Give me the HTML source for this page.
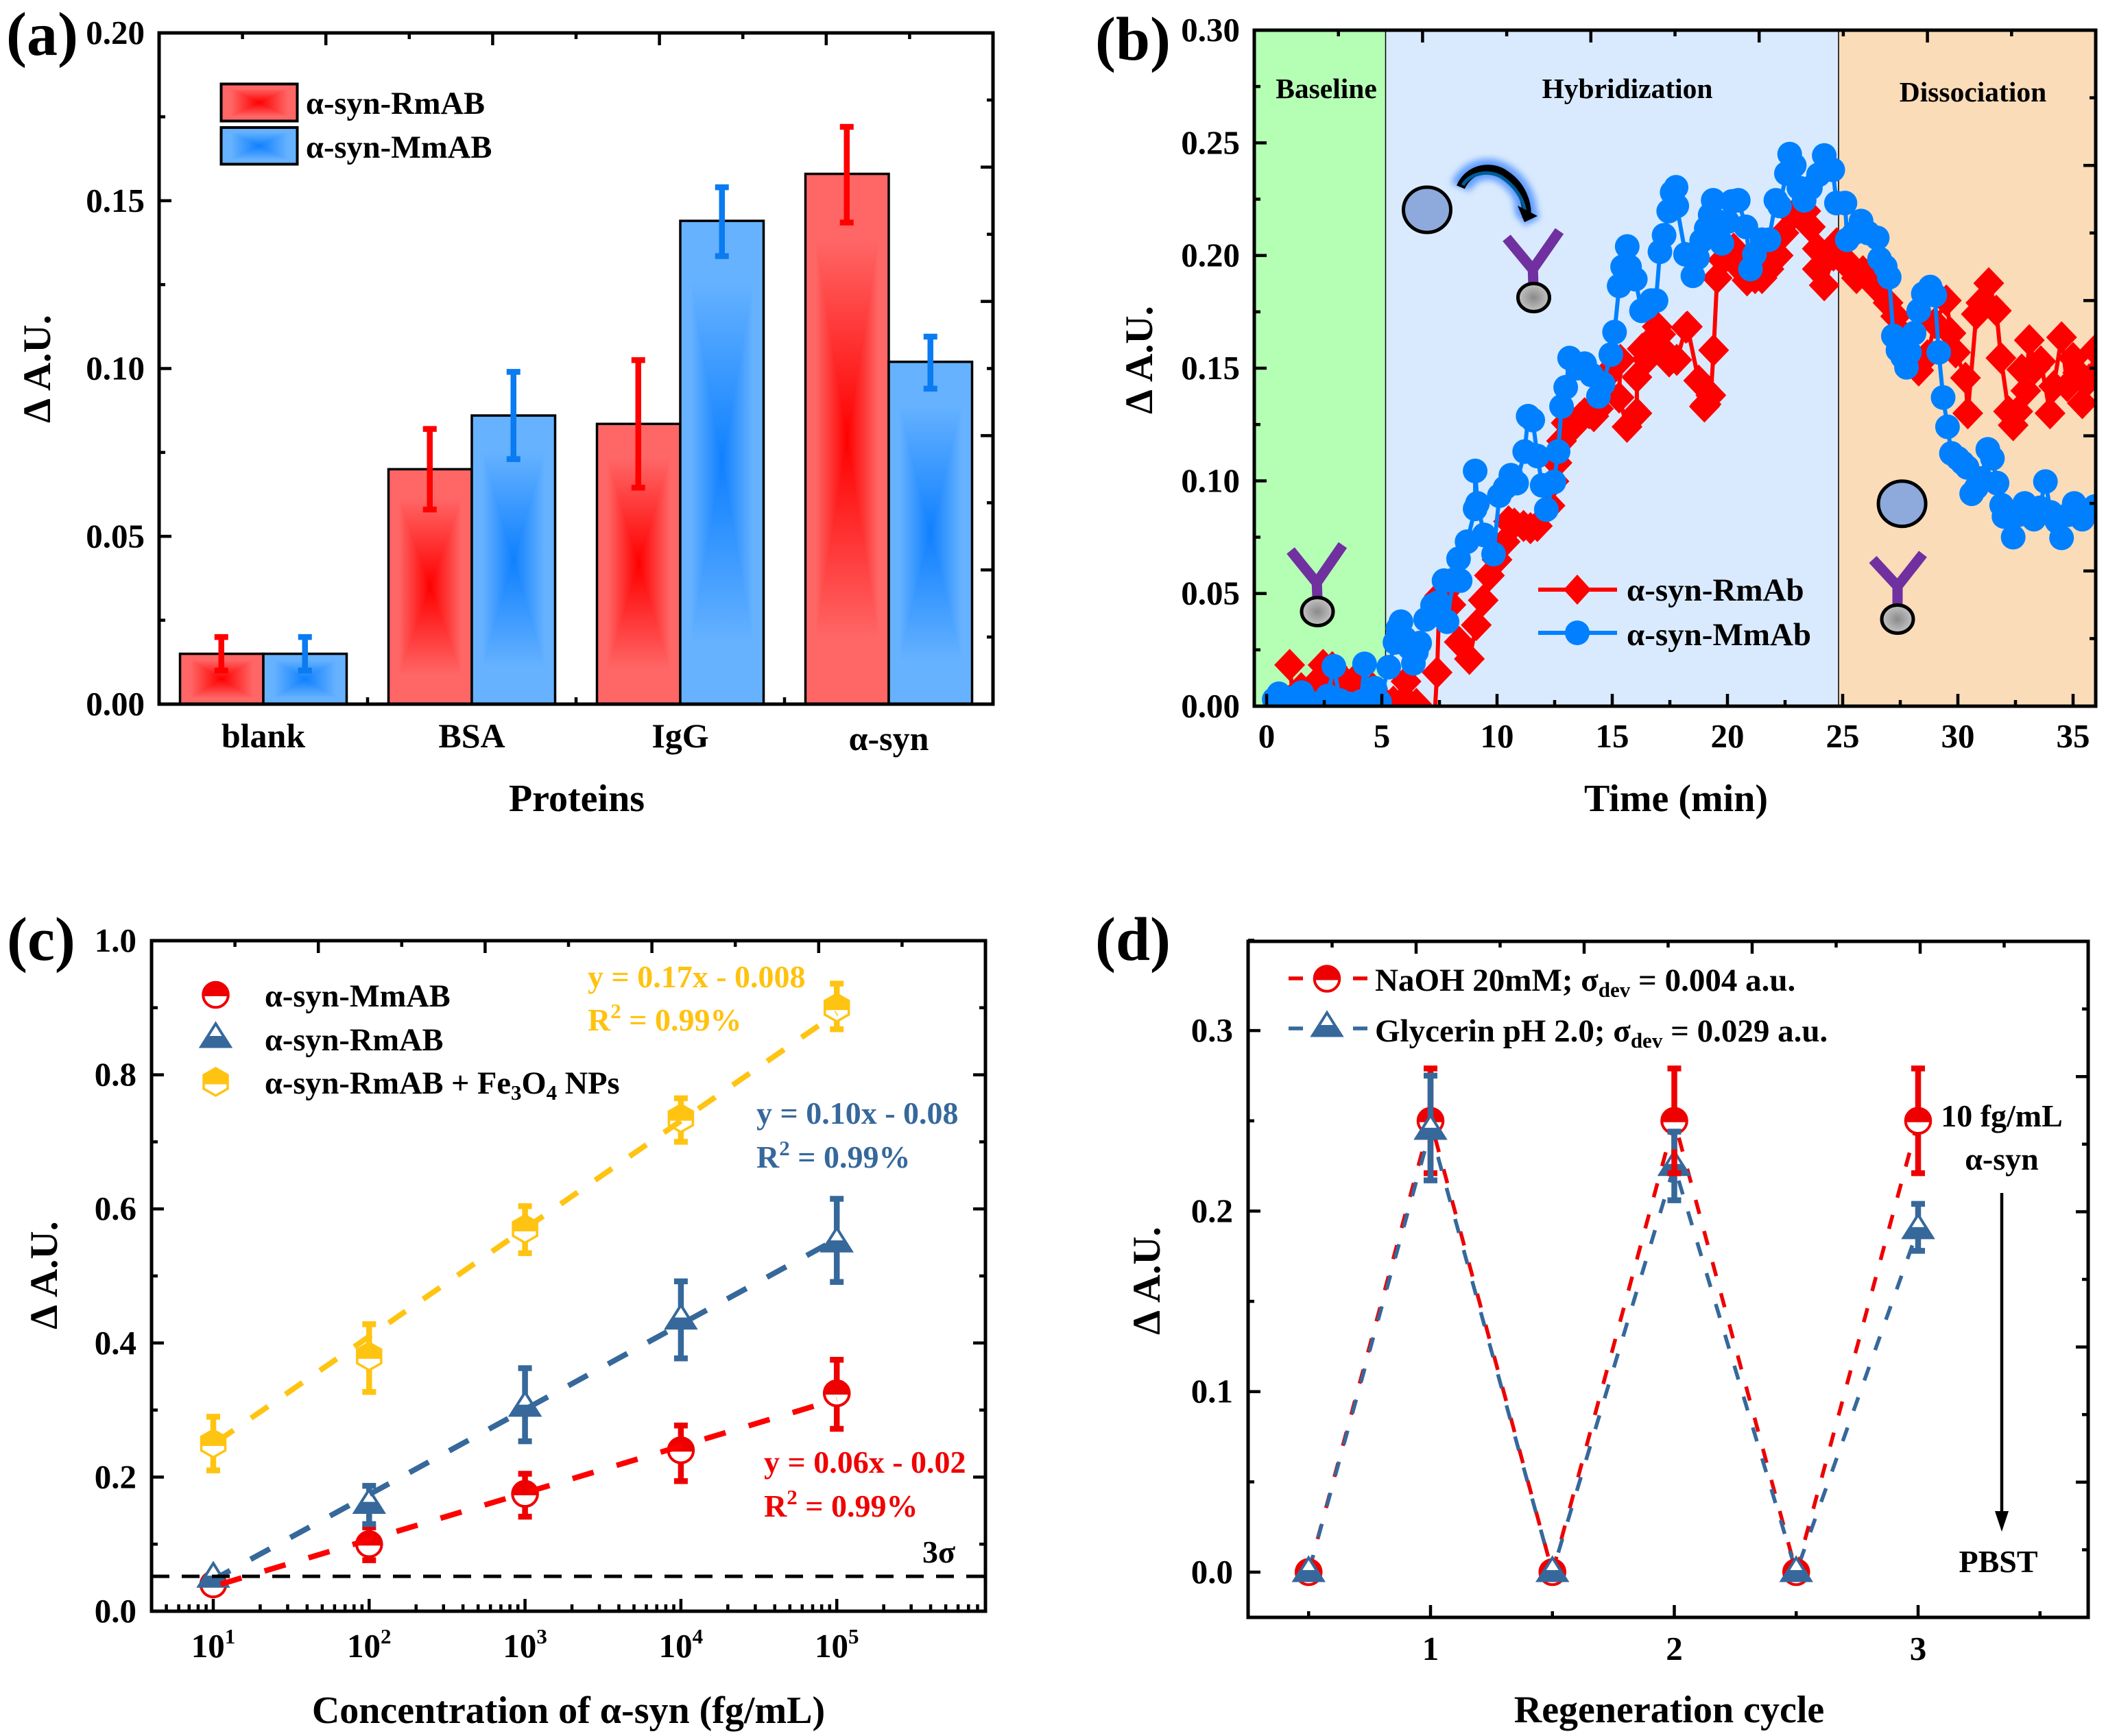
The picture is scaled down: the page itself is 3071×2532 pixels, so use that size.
<!DOCTYPE html>
<html lang="en">
<head>
<meta charset="utf-8">
<title>Protein binding charts</title>
<style>
html,body{margin:0;padding:0;background:#fff;}
svg{display:block;}
text{font-family:"Liberation Serif","Noto Serif CJK SC",serif;font-weight:bold;fill:#000;}
</style>
</head>
<body>
<svg id="fig" xmlns="http://www.w3.org/2000/svg" width="3071" height="2532" viewBox="0 0 3071 2532">
<defs>
  <linearGradient id="rT" x1="0" y1="0" x2="0" y2="1"><stop offset="0.25" stop-color="#FF6666"/><stop offset="1" stop-color="#FF0000"/></linearGradient>
  <linearGradient id="rB" x1="0" y1="1" x2="0" y2="0"><stop offset="0.25" stop-color="#FF6666"/><stop offset="1" stop-color="#FF0000"/></linearGradient>
  <linearGradient id="rL" x1="0" y1="0" x2="1" y2="0"><stop offset="0.25" stop-color="#FF6666"/><stop offset="1" stop-color="#FF0000"/></linearGradient>
  <linearGradient id="rR" x1="1" y1="0" x2="0" y2="0"><stop offset="0.25" stop-color="#FF6666"/><stop offset="1" stop-color="#FF0000"/></linearGradient>
  <linearGradient id="bT" x1="0" y1="0" x2="0" y2="1"><stop offset="0.25" stop-color="#66B2FF"/><stop offset="1" stop-color="#0F80FF"/></linearGradient>
  <linearGradient id="bB" x1="0" y1="1" x2="0" y2="0"><stop offset="0.25" stop-color="#66B2FF"/><stop offset="1" stop-color="#0F80FF"/></linearGradient>
  <linearGradient id="bL" x1="0" y1="0" x2="1" y2="0"><stop offset="0.25" stop-color="#66B2FF"/><stop offset="1" stop-color="#0F80FF"/></linearGradient>
  <linearGradient id="bR" x1="1" y1="0" x2="0" y2="0"><stop offset="0.25" stop-color="#66B2FF"/><stop offset="1" stop-color="#0F80FF"/></linearGradient>
  <radialGradient id="beadFill"><stop offset="0" stop-color="#8A8A8A"/><stop offset="1" stop-color="#C4C4C4"/></radialGradient>
  <filter id="glow" x="-30%" y="-30%" width="160%" height="160%"><feGaussianBlur stdDeviation="5"/></filter>
  <clipPath id="clipB"><rect x="1829" y="44" width="1227" height="986"/></clipPath>
</defs>

<g id="panelA">
  <text x="9" y="80" font-size="90">(a)</text>
  <g id="barsA"></g>
  <g id="axesA"></g>
  <g id="legendA"></g>
  <text x="446" y="166" font-size="46.5">α-syn-RmAB</text>
  <text x="446" y="230" font-size="46.5">α-syn-MmAB</text>
  <text x="841" y="1183" font-size="56" text-anchor="middle">Proteins</text>
  <text transform="translate(73,538) rotate(-90)" font-size="57" text-anchor="middle">Δ A.U.</text>
</g>

<g id="panelB">
  <text x="1597" y="87" font-size="90">(b)</text>
  <rect x="1829" y="44" width="191" height="986" fill="#B5FFB5"/>
  <rect x="2020" y="44" width="661" height="986" fill="#D9EAFE"/>
  <rect x="2681" y="44" width="375" height="986" fill="#FADCB9"/>
  <line x1="2020.5" y1="44" x2="2020.5" y2="1030" stroke="#000" stroke-width="1.5"/>
  <line x1="2681" y1="44" x2="2681" y2="1030" stroke="#000" stroke-width="1.5"/>
  <g>
    <path d="M1882,803 L1920,850 L1958,795 M1920,845 L1921,872" fill="none" stroke="#7030A0" stroke-width="15"/>
    <ellipse cx="1921" cy="892" rx="23" ry="20.5" fill="url(#beadFill)" stroke="#000" stroke-width="5"/>
  </g>
  <g>
    <ellipse cx="2081" cy="306" rx="34.5" ry="33" fill="#8EA9DB" stroke="#000" stroke-width="5"/>
  </g>
  <g>
    <path d="M2130,273 C2142,245 2175,240 2195,255 C2218,270 2228,295 2226,318" fill="none" stroke="#5E9CFF" stroke-width="30" filter="url(#glow)"/>
    <polygon points="2208,298 2246,315 2223,330" fill="#5E9CFF" filter="url(#glow)"/>
    <path d="M2130,273 C2142,245 2175,240 2195,255 C2218,270 2228,295 2226,318" fill="none" stroke="#000" stroke-width="13"/>
    <path d="M2133,270 C2144,251 2175,247 2192,260 C2212,274 2224,295 2224,314" fill="none" stroke="#005C99" stroke-width="5"/>
    <polygon points="2213,300 2242,315 2223,324" fill="#000"/>
  </g>
  <g>
    <path d="M2197,347 L2235,393 L2274,337 M2235,385 L2236,417" fill="none" stroke="#7030A0" stroke-width="15"/>
    <ellipse cx="2236.5" cy="434" rx="23" ry="20.5" fill="url(#beadFill)" stroke="#000" stroke-width="5"/>
  </g>
  <g>
    <ellipse cx="2773.6" cy="734.7" rx="34.5" ry="33" fill="#8EA9DB" stroke="#000" stroke-width="5"/>
  </g>
  <g>
    <path d="M2731,816 L2767,855 L2804,808 M2767,848 L2767,884" fill="none" stroke="#7030A0" stroke-width="15"/>
    <ellipse cx="2767" cy="903" rx="23" ry="20.5" fill="url(#beadFill)" stroke="#000" stroke-width="5"/>
  </g>
  <g id="seriesB" clip-path="url(#clipB)"></g>
  <text x="1934" y="143" font-size="41.5" text-anchor="middle">Baseline</text>
  <text x="2373" y="143" font-size="41.5" text-anchor="middle">Hybridization</text>
  <text x="2877" y="148" font-size="41.5" text-anchor="middle">Dissociation</text>
  <g id="axesB"></g>
  <g id="legendB"></g>
  <text x="2372" y="876" font-size="47">α-syn-RmAb</text>
  <text x="2372" y="941" font-size="47">α-syn-MmAb</text>
  <text x="2444" y="1183" font-size="56" text-anchor="middle">Time (min)</text>
  <text transform="translate(1680,525) rotate(-90)" font-size="57" text-anchor="middle">Δ A.U.</text>
</g>

<g id="panelC">
  <text x="10" y="1400" font-size="90">(c)</text>
  <g id="seriesC"></g>
  <g id="axesC"></g>
  <g id="legendC"></g>
  <text x="386" y="1468" font-size="46.4">α-syn-MmAB</text>
  <text x="386" y="1532" font-size="46.4">α-syn-RmAB</text>
  <text x="386" y="1595" font-size="46.4">α-syn-RmAB + Fe<tspan font-size="31" dy="9">3</tspan><tspan dy="-9">O</tspan><tspan font-size="31" dy="9">4</tspan><tspan dy="-9"> NPs</tspan></text>
  <text x="857" y="1440" font-size="46" style="fill:#FFC20E">y = 0.17x - 0.008</text>
  <text x="857" y="1503" font-size="46" style="fill:#FFC20E">R<tspan font-size="31" dy="-18">2</tspan><tspan dy="18"> = 0.99%</tspan></text>
  <text x="1103" y="1639" font-size="46" style="fill:#36689B">y = 0.10x - 0.08</text>
  <text x="1103" y="1703" font-size="46" style="fill:#36689B">R<tspan font-size="31" dy="-18">2</tspan><tspan dy="18"> = 0.99%</tspan></text>
  <text x="1114" y="2148" font-size="46" style="fill:#F00000">y = 0.06x - 0.02</text>
  <text x="1114" y="2212" font-size="46" style="fill:#F00000">R<tspan font-size="31" dy="-18">2</tspan><tspan dy="18"> = 0.99%</tspan></text>
  <text x="1345" y="2279" font-size="46">3σ</text>
  <text x="829" y="2513" font-size="56" text-anchor="middle">Concentration of α-syn (fg/mL)</text>
  <text transform="translate(83,1860) rotate(-90)" font-size="57" text-anchor="middle">Δ A.U.</text>
</g>

<g id="panelD">
  <text x="1597" y="1400" font-size="90">(d)</text>
  <g id="seriesD"></g>
  <g id="axesD"></g>
  <g id="legendD"></g>
  <text x="2005" y="1445" font-size="47">NaOH 20mM; σ<tspan font-size="31" dy="9">dev</tspan><tspan dy="-9"> = 0.004 a.u.</tspan></text>
  <text x="2005" y="1519" font-size="47">Glycerin pH 2.0; σ<tspan font-size="31" dy="9">dev</tspan><tspan dy="-9"> = 0.029 a.u.</tspan></text>
  <text x="2919" y="1643" font-size="46" text-anchor="middle">10 fg/mL</text>
  <text x="2919" y="1706" font-size="46" text-anchor="middle">α-syn</text>
  <g>
    <line x1="2919" y1="1740" x2="2919" y2="2210" stroke="#000" stroke-width="4.5"/>
    <polygon points="2909,2204 2929,2204 2919,2234" fill="#000"/>
  </g>
  <text x="2914" y="2293" font-size="46" text-anchor="middle">PBST</text>
  <text x="2434" y="2512" font-size="56" text-anchor="middle">Regeneration cycle</text>
  <text transform="translate(1691,1868) rotate(-90)" font-size="57" text-anchor="middle">Δ A.U.</text>
</g>
</svg>

<script>
/* ---------- Panel (a) data ---------- */
const categoriesA = ['blank', 'BSA', 'IgG', 'α-syn'];
const rmabValues = [0.015, 0.070, 0.0835, 0.158];
const rmabErrTop = [0.020, 0.082, 0.1025, 0.172];
const rmabErrBottom = [0.010, 0.058, 0.0645, 0.1435];
const mmabValues = [0.015, 0.086, 0.144, 0.102];
const mmabErrTop = [0.020, 0.099, 0.154, 0.1095];
const mmabErrBottom = [0.010, 0.073, 0.1335, 0.094];
const yTickLabelsA = ['0.00', '0.05', '0.10', '0.15', '0.20'];
const yTickValuesA = [0, 0.05, 0.10, 0.15, 0.20];

/* ---------- Panel (b) data ---------- */
const timeRmab = [1,1.15,1.5,2,2.3,2.45,2.7,2.85,3.1,3.5,3.85,4.2,4.6,5,5.5,6.05,6.1,6.5,6.8,7.2,7.4,7.5,7.7,8,8.36,8.8,9.1,9.4,9.67,10,10.35,10.5,10.75,11.15,11.45,11.75,12.3,12.47,12.6,12.8,13,13.2,13.4,13.6,13.8,14,14.2,14.4,14.6,14.8,15,15.35,15.3,15.64,16.07,16.07,16.3,16.5,16.88,16.95,17.1,17.4,17.47,17.8,18.2,18.26,18.75,19,19.07,19.28,19.4,19.55,19.8,20.27,20.5,20.85,21.2,21.5,21.8,22.2,22.45,22.84,23.4,23.6,23.9,23.9,24.2,24.6,24.74,25.1,25.37,25.6,25.88,26.2,26.5,26.97,27.3,27.6,27.9,28.3,28.68,29,29.5,29.7,29.9,30.33,30.43,30.8,31,31.34,31.67,31.87,32.2,32.4,32.6,32.77,32.95,33.1,33.35,33.6,34,34.16,34.5,34.75,35,35.2,35.4,35.7,35.95];
const valueRmab = [0.0183,0.003,0.008,0.004,0.012,0.0183,0.01,0.0173,0.005,0.01,0.012,0.005,0.008,0.003,0.002,0.011,0.002,0.001,-0.005,-0.02,0.015,0.049,0.05,0.045,0.0285,0.021,0.036,0.047,0.058,0.065,0.073,0.082,0.081,0.08,0.079,0.08,0.089,0.0998,0.108,0.1177,0.1257,0.127,0.125,0.128,0.13,0.13,0.1287,0.132,0.14,0.147,0.15,0.1537,0.137,0.124,0.13,0.146,0.1586,0.154,0.1643,0.1684,0.165,0.156,0.153,0.1537,0.168,0.1684,0.1445,0.133,0.134,0.138,0.158,0.19,0.198,0.203,0.195,0.189,0.19,0.19,0.194,0.2,0.21,0.218,0.2197,0.2127,0.203,0.194,0.1868,0.2,0.2054,0.198,0.194,0.19,0.193,0.19,0.1856,0.179,0.173,0.165,0.155,0.149,0.1557,0.17,0.18,0.1655,0.157,0.1457,0.13,0.174,0.179,0.1877,0.1755,0.1545,0.1308,0.1247,0.1308,0.1494,0.14,0.1624,0.15,0.153,0.13,0.142,0.1637,0.142,0.1545,0.148,0.1345,0.145,0.158];
const timeMmab = [0.33,0.53,0.75,1,1.25,1.52,1.8,2.2,2.65,2.92,3.18,3.6,4.1,4.25,4.5,4.7,4.9,5.3,5.57,5.7,5.83,6,6.2,6.37,6.5,6.64,6.9,7.2,7.45,7.7,7.83,8.1,8.33,8.4,8.7,9.05,9.05,9.15,9.44,9.85,10.1,10.35,10.6,10.85,11.2,11.35,11.55,11.75,11.96,12.14,12.47,12.65,12.8,12.98,13.15,13.5,13.8,14.1,14.4,14.6,14.94,15.1,15.3,15.45,15.65,15.75,16,16.27,16.5,16.7,16.9,17.07,17.25,17.45,17.6,17.77,17.8,18.18,18.5,18.7,18.88,19.08,19.25,19.38,19.6,19.76,20,20.2,20.47,20.8,21,21.17,21.5,21.8,22.1,22.26,22.56,22.7,22.9,23.1,23.33,23.6,23.95,24.2,24.57,24.73,25.1,25.2,25.5,25.8,26.1,26.5,26.6,26.85,27.02,27.2,27.4,27.6,27.77,27.9,28.1,28.3,28.5,28.8,29,29.17,29.36,29.55,29.72,30,30.2,30.4,30.6,30.8,31,31.3,31.5,31.7,31.9,32,32.4,32.65,32.9,33.3,33.55,33.8,34.03,34.3,34.5,34.8,35.05,35.4,35.95];
const valueMmab = [0.003,0.0055,0.002,0.003,0.004,0.006,0.002,0.001,0.0045,0.0177,0.0025,0.001,0.002,0.0188,0.003,0.008,0.002,0.0173,0.0283,0.0345,0.0375,0.03,0.026,0.019,0.024,0.028,0.0385,0.0447,0.046,0.0557,0.0375,0.056,0.0654,0.0557,0.073,0.0876,0.1044,0.09,0.076,0.0675,0.0934,0.097,0.1025,0.099,0.113,0.1287,0.127,0.111,0.098,0.0873,0.0995,0.113,0.133,0.1415,0.1545,0.15,0.152,0.147,0.1375,0.143,0.156,0.166,0.1865,0.195,0.204,0.195,0.1895,0.1755,0.177,0.18,0.18,0.2017,0.209,0.2197,0.228,0.2303,0.222,0.2005,0.191,0.199,0.2066,0.212,0.218,0.2245,0.215,0.2054,0.215,0.224,0.2245,0.2127,0.194,0.2005,0.207,0.207,0.2245,0.222,0.2364,0.245,0.24,0.23,0.2245,0.23,0.2358,0.2444,0.238,0.2233,0.2233,0.207,0.21,0.2153,0.21,0.2078,0.1985,0.195,0.1904,0.1643,0.158,0.155,0.1504,0.157,0.1655,0.1755,0.183,0.186,0.1824,0.157,0.137,0.124,0.1122,0.11,0.108,0.106,0.0943,0.097,0.101,0.114,0.11,0.099,0.0892,0.0842,0.075,0.085,0.09,0.083,0.088,0.0997,0.086,0.082,0.0747,0.085,0.09,0.083,0.0886];
const xTickValuesB = [0, 5, 10, 15, 20, 25, 30, 35];
const yTickLabelsB = ['0.00', '0.05', '0.10', '0.15', '0.20', '0.25', '0.30'];
const yTickValuesB = [0, 0.05, 0.10, 0.15, 0.20, 0.25, 0.30];

/* ---------- Panel (c) data ---------- */
const concentrations = [10, 100, 1000, 10000, 100000];
const decadeExponents = ['1', '2', '3', '4', '5'];
const mmabConc = [0.04, 0.10, 0.175, 0.24, 0.325];
const mmabConcTop = [0.05, 0.125, 0.205, 0.277, 0.375];
const mmabConcBottom = [0.03, 0.076, 0.141, 0.194, 0.272];
const rmabConc = [0.05, 0.16, 0.305, 0.435, 0.55];
const rmabConcTop = [0.055, 0.187, 0.3625, 0.492, 0.615];
const rmabConcBottom = [0.045, 0.13, 0.2535, 0.377, 0.491];
const fe3o4Conc = [0.25, 0.38, 0.57, 0.735, 0.90];
const fe3o4ConcTop = [0.29, 0.428, 0.604, 0.765, 0.936];
const fe3o4ConcBottom = [0.21, 0.327, 0.534, 0.70, 0.868];
const fitRange = [10, 100000];
const fitMmab = [0.037, 0.316];
const fitRmab = [0.047, 0.555];
const fitFe3o4 = [0.249, 0.892];
const threeSigmaValue = [0.052];
const yTickLabelsC = ['0.0', '0.2', '0.4', '0.6', '0.8', '1.0'];
const yTickValuesC = [0, 0.2, 0.4, 0.6, 0.8, 1.0];

/* ---------- Panel (d) data ---------- */
const cycles = [0.5, 1, 1.5, 2, 2.5, 3];
const naohValues = [0, 0.25, 0, 0.25, 0, 0.25];
const naohTop = [0, 0.279, 0, 0.279, 0, 0.279];
const naohBottom = [0, 0.221, 0, 0.221, 0, 0.221];
const glycerinValues = [0, 0.245, 0, 0.225, 0, 0.19];
const glycerinTop = [0, 0.275, 0, 0.244, 0, 0.204];
const glycerinBottom = [0, 0.217, 0, 0.206, 0, 0.178];
const xTickLabelsD = ['1', '2', '3'];
const xTickValuesD = [1, 2, 3];
const yTickLabelsD = ['0.0', '0.1', '0.2', '0.3'];
const yTickValuesD = [0, 0.1, 0.2, 0.3];

/* ---------- Scales ---------- */
const xA = i => 232 + (i + 0.5) * 304;
const yA = v => 1027 - v * (979 / 0.2);
const xB = t => 1847 + 33.6 * t;
const yB = v => 1030 - v * (986 / 0.3);
const xC = c => 311 + (Math.log10(c) - 1) * 227.3;
const yC = v => 2350 - v * 978;
const xD = c => 2086 + (c - 1) * 355.5;
const yD = v => 2293 - v * 2633;

/* ---------- Colours ---------- */
const RED = '#EE0000', STEEL = '#36689B', GOLD = '#FFC412';

const NS = 'http://www.w3.org/2000/svg';
function mk(tag, attrs, parent) {
  const e = document.createElementNS(NS, tag);
  for (const k in attrs) e.setAttribute(k, attrs[k]);
  if (parent) parent.appendChild(e);
  return e;
}
const byId = id => document.getElementById(id);

/* ---------- Frame and ticks ---------- */
function frame(g, x0, y0, x1, y1) {
  const r = mk('rect', {x: x0, y: y0, width: x1 - x0, height: y1 - y0, fill: 'none', stroke: '#000', 'stroke-width': 5}, g);
  
  
}
function tickMark(g, x1, y1, x2, y2) {
  const t = mk('line', {x1: x1, y1: y1, x2: x2, y2: y2, stroke: '#000', 'stroke-width': 4.5}, g);
  
  
}
function topRightTicks(g, x0, y0, x1, y1) {
  for (let k = 1; k < 10; k++) {
    const len = k % 2 === 0 ? 18 : 9;
    const x = x0 + (x1 - x0) * k / 10;
    const y = y1 - (y1 - y0) * k / 10;
    tickMark(g, x, y0, x, y0 + len);
    tickMark(g, x1, y, x1 - len, y);
  }
}
function tickLabel(g, x, y, str, anchor, size) {
  const t = mk('text', {x: x, y: y, 'text-anchor': anchor, 'font-size': size || 49}, g);
  t.textContent = str;
  
  
  return t;
}

/* ---------- Marks ---------- */
function gradientBar(g, name, x0, x1, yTop, yBot, key) {
  const bar = mk('g', {}, g);
  
  
  const cx = (x0 + x1) / 2, cy = (yTop + yBot) / 2;
  mk('polygon', {points: `${x0},${yTop} ${x1},${yTop} ${cx},${cy}`, fill: `url(#${key}T)`, 'shape-rendering': 'crispEdges'}, bar);
  mk('polygon', {points: `${x0},${yBot} ${x1},${yBot} ${cx},${cy}`, fill: `url(#${key}B)`, 'shape-rendering': 'crispEdges'}, bar);
  mk('polygon', {points: `${x0},${yTop} ${x0},${yBot} ${cx},${cy}`, fill: `url(#${key}L)`, 'shape-rendering': 'crispEdges'}, bar);
  mk('polygon', {points: `${x1},${yTop} ${x1},${yBot} ${cx},${cy}`, fill: `url(#${key}R)`, 'shape-rendering': 'crispEdges'}, bar);
  mk('rect', {x: x0, y: yTop, width: x1 - x0, height: yBot - yTop, fill: 'none', stroke: '#000', 'stroke-width': 3.5}, bar);
}
function errorBar(g, name, x, yTop, yBot, color) {
  const e = mk('path', {d: `M${x - 10},${yTop} H${x + 10} M${x},${yTop} V${yBot} M${x - 10},${yBot} H${x + 10}`, stroke: color, 'stroke-width': 8.5, fill: 'none'}, g);
  
  
}
function halfCircle(g, name, x, y, color) {
  const m = mk('g', {transform: `translate(${x},${y})`}, g);
  
  
  mk('circle', {r: 18.3, fill: '#fff', stroke: color, 'stroke-width': 4}, m);
  mk('path', {d: 'M-18.3,1 A18.3,18.3 0 0 1 18.3,1 Z', fill: color, stroke: color, 'stroke-width': 2}, m);
}
function halfTriangle(g, name, x, y, color) {
  const m = mk('g', {transform: `translate(${x},${y})`}, g);
  
  
  mk('polygon', {points: '0,-21 21,12.5 -21,12.5', fill: '#fff', stroke: color, 'stroke-width': 4}, m);
  mk('polygon', {points: '-12.5,-1 12.5,-1 21,12.5 -21,12.5', fill: color, stroke: color, 'stroke-width': 4}, m);
}
function halfHexagon(g, name, x, y, color) {
  const m = mk('g', {transform: `translate(${x},${y})`}, g);
  
  
  mk('polygon', {points: '0,-20 17.5,-10 17.5,10 0,20 -17.5,10 -17.5,-10', fill: '#fff', stroke: color, 'stroke-width': 3.5}, m);
  mk('polygon', {points: '0,-20 17.5,-10 17.5,2 -17.5,2 -17.5,-10', fill: color, stroke: color, 'stroke-width': 3}, m);
}
function pointsOf(xs, ys, fx, fy) {
  return xs.map((x, i) => fx(x) + ',' + fy(ys[i])).join(' ');
}

/* ---------- Panel (a) ---------- */
(function () {
  const g = byId('barsA');
  const half = 121.5;
  categoriesA.forEach((cat, i) => {
    const cx = xA(i);
    gradientBar(g, 'bar-rmab-' + cat, cx - half, cx, yA(rmabValues[i]), yA(0), 'r');
    gradientBar(g, 'bar-mmab-' + cat, cx, cx + half, yA(mmabValues[i]), yA(0), 'b');
    errorBar(g, 'error-bar-rmab-' + cat, cx - half / 2 - 0.5, yA(rmabErrTop[i]), yA(rmabErrBottom[i]), '#FF0000');
    errorBar(g, 'error-bar-mmab-' + cat, cx + half / 2, yA(mmabErrTop[i]), yA(mmabErrBottom[i]), '#0A7BF0');
  });
  const ax = byId('axesA');
  frame(ax, 232, 48, 1448, 1027);
  topRightTicks(ax, 232, 48, 1448, 1027);
  yTickValuesA.forEach((v, i) => {
    tickMark(ax, 232, yA(v), 250, yA(v));
    if (i < yTickValuesA.length - 1) tickMark(ax, 232, yA(v + 0.025), 241, yA(v + 0.025));
    tickLabel(ax, 211, yA(v) + 16, yTickLabelsA[i], 'end');
  });
  categoriesA.forEach((cat, i) => {
    if (i > 0) tickMark(ax, xA(i) - 152, 1027, xA(i) - 152, 1017);
    tickLabel(ax, xA(i), cat === 'α-syn' ? 1094 : 1090, cat, 'middle', 50);
  });
  const lg = byId('legendA');
  gradientBar(lg, 'legend-swatch-rmab', 322.5, 433.5, 122.5, 176.5, 'r');
  gradientBar(lg, 'legend-swatch-mmab', 322.5, 433.5, 186, 239.5, 'b');
  lg.querySelectorAll('rect').forEach(r => r.setAttribute('stroke-width', 4));
})();

/* ---------- Panel (b) ---------- */
(function () {
  const g = byId('seriesB');
  const lr = mk('polyline', {points: pointsOf(timeRmab, valueRmab, xB, yB), fill: 'none', stroke: '#FF0000', 'stroke-width': 6}, g);
  
  
  timeRmab.forEach((t, i) => {
    const x = xB(t), y = yB(valueRmab[i]);
    const d = mk('polygon', {points: `${x},${y - 23.5} ${x + 22.5},${y} ${x},${y + 23.5} ${x - 22.5},${y}`, fill: '#FF0000'}, g);
    
    
  });
  const lb = mk('polyline', {points: pointsOf(timeMmab, valueMmab, xB, yB), fill: 'none', stroke: '#0080FF', 'stroke-width': 6}, g);
  
  
  timeMmab.forEach((t, i) => {
    const c = mk('circle', {cx: xB(t), cy: yB(valueMmab[i]), r: 18, fill: '#0080FF'}, g);
    
    
  });
  const ax = byId('axesB');
  frame(ax, 1829, 44, 3056, 1030);
  topRightTicks(ax, 1829, 44, 3056, 1030);
  yTickValuesB.forEach((v, i) => {
    tickMark(ax, 1829, yB(v), 1847, yB(v));
    if (i < yTickValuesB.length - 1) tickMark(ax, 1829, yB(v + 0.025), 1838, yB(v + 0.025));
    tickLabel(ax, 1808, yB(v) + 16, yTickLabelsB[i], 'end');
  });
  xTickValuesB.forEach(t => {
    tickMark(ax, xB(t), 1030, xB(t), 1012);
    tickMark(ax, xB(t + 2.5), 1030, xB(t + 2.5), 1021);
    tickLabel(ax, xB(t), 1090, String(t), 'middle');
  });
  const lg = byId('legendB');
  const lr2 = mk('line', {x1: 2243, y1: 860, x2: 2358, y2: 860, stroke: '#FF0000', 'stroke-width': 6}, lg);
  
  
  const ld = mk('polygon', {points: '2300,838 2320,860 2300,882 2280,860', fill: '#FF0000'}, lg);
  
  
  const lb2 = mk('line', {x1: 2243, y1: 923, x2: 2358, y2: 923, stroke: '#0080FF', 'stroke-width': 6}, lg);
  
  
  const lc = mk('circle', {cx: 2300, cy: 923, r: 18, fill: '#0080FF'}, lg);
  
  
})();

/* ---------- Panel (c) ---------- */
(function () {
  const g = byId('seriesC');
  const fitLine = (ys, color, dash, offset, name) => {
    const l = mk('polyline', {points: pointsOf(fitRange, ys, xC, yC), fill: 'none', stroke: color, 'stroke-width': 8, 'stroke-dasharray': dash, 'stroke-dashoffset': offset}, g);
    
    
  };
  concentrations.forEach((c, i) => {
    errorBar(g, 'error-bar-fe3o4', xC(c), yC(fe3o4ConcTop[i]), yC(fe3o4ConcBottom[i]), GOLD);
    halfHexagon(g, 'marker-fe3o4', xC(c), yC(fe3o4Conc[i]), GOLD);
  });
  concentrations.forEach((c, i) => {
    if (i > 0) errorBar(g, 'error-bar-mmab', xC(c), yC(mmabConcTop[i]), yC(mmabConcBottom[i]), RED);
    halfCircle(g, 'marker-mmab', xC(c), yC(mmabConc[i]), RED);
  });
  concentrations.forEach((c, i) => {
    if (i > 0) errorBar(g, 'error-bar-rmab', xC(c), yC(rmabConcTop[i]), yC(rmabConcBottom[i]), STEEL);
    halfTriangle(g, 'marker-rmab', xC(c), yC(rmabConc[i]), STEEL);
  });
  fitLine(fitFe3o4, GOLD, '30 31', -6, 'fit-line-fe3o4');
  fitLine(fitRmab, STEEL, '32 34', 4, 'fit-line-rmab');
  fitLine(fitMmab, '#FF0000', '32 35', -11, 'fit-line-mmab');
  const sig = mk('line', {x1: 221, y1: yC(threeSigmaValue[0]), x2: 1437, y2: yC(threeSigmaValue[0]), stroke: '#000', 'stroke-width': 5, 'stroke-dasharray': '26 18'}, g);
  
  

  const ax = byId('axesC');
  frame(ax, 221, 1372, 1437, 2350);
  topRightTicks(ax, 221, 1372, 1437, 2350);
  yTickValuesC.forEach((v, i) => {
    tickMark(ax, 221, yC(v), 239, yC(v));
    if (i < yTickValuesC.length - 1) tickMark(ax, 221, yC(v + 0.1), 230, yC(v + 0.1));
    tickLabel(ax, 199, yC(v) + 16, yTickLabelsC[i], 'end');
  });
  for (let d = 0; d <= 5; d++) {
    for (let m = 1; m <= 9; m++) {
      const c = m * Math.pow(10, d);
      const x = xC(c);
      if (x <= 221 || x >= 1437) continue;
      tickMark(ax, x, 2350, x, m === 1 ? 2332 : 2340);
    }
  }
  concentrations.forEach((c, i) => {
    const t = tickLabel(ax, xC(c), 2417, '10', 'middle');
    const s = mk('tspan', {'font-size': 31, dy: -20}, t);
    s.textContent = decadeExponents[i];
  });
  const lg = byId('legendC');
  halfCircle(lg, 'legend-marker-mmab', 314.5, 1451, RED);
  halfTriangle(lg, 'legend-marker-rmab', 314.5, 1514, STEEL);
  halfHexagon(lg, 'legend-marker-fe3o4', 314.5, 1578, GOLD);
})();

/* ---------- Panel (d) ---------- */
(function () {
  const g = byId('seriesD');
  const dashed = (ys, color, offset, name) => {
    const l = mk('polyline', {points: pointsOf(cycles, ys, xD, yD), fill: 'none', stroke: color, 'stroke-width': 5.5, 'stroke-dasharray': '21 26', 'stroke-dashoffset': offset}, g);
    
    
  };
  dashed(naohValues, RED, -3, 'line-naoh');
  dashed(glycerinValues, STEEL, -5, 'line-glycerin');
  cycles.forEach((c, i) => {
    if (naohTop[i] > naohBottom[i]) errorBar(g, 'error-bar-naoh', xD(c), yD(naohTop[i]), yD(naohBottom[i]), RED);
    halfCircle(g, 'marker-naoh', xD(c), yD(naohValues[i]), RED);
  });
  cycles.forEach((c, i) => {
    if (glycerinTop[i] > glycerinBottom[i]) errorBar(g, 'error-bar-glycerin', xD(c), yD(glycerinTop[i]), yD(glycerinBottom[i]), STEEL);
    halfTriangle(g, 'marker-glycerin', xD(c), yD(glycerinValues[i]), STEEL);
  });
  /* The NaOH error bar's lower arm sits in front of the triangle at cycle 2 */
  const front = 3;
  const arm = mk('path', {d: `M${xD(cycles[front])},${yD(glycerinValues[front]) - 24} V${yD(naohBottom[front])} M${xD(cycles[front]) - 10},${yD(naohBottom[front])} H${xD(cycles[front]) + 10}`, stroke: RED, 'stroke-width': 8.5, fill: 'none'}, g);
  
  

  const ax = byId('axesD');
  frame(ax, 1820, 1373, 3045, 2359);
  topRightTicks(ax, 1820, 1373, 3045, 2359);
  yTickValuesD.forEach((v, i) => {
    tickMark(ax, 1820, yD(v), 1838, yD(v));
    tickMark(ax, 1820, yD(v + 0.05), 1829, yD(v + 0.05));
    tickLabel(ax, 1798, yD(v) + 16, yTickLabelsD[i], 'end');
  });
  xTickValuesD.forEach((c, i) => {
    tickMark(ax, xD(c), 2359, xD(c), 2341);
    tickMark(ax, xD(c - 0.5), 2359, xD(c - 0.5), 2350);
    tickLabel(ax, xD(c), 2421, xTickLabelsD[i], 'middle');
  });
  tickMark(ax, xD(3.5), 2359, xD(3.5), 2350);
  const lg = byId('legendD');
  const d1 = mk('path', {d: 'M1879,1427 H1900 M1973,1427 H1994', stroke: RED, 'stroke-width': 5.5, fill: 'none'}, lg);
  
  
  halfCircle(lg, 'legend-marker-naoh', 1935, 1427.5, RED);
  const d2 = mk('path', {d: 'M1879,1500 H1900 M1973,1500 H1994', stroke: STEEL, 'stroke-width': 5.5, fill: 'none'}, lg);
  
  
  halfTriangle(lg, 'legend-marker-glycerin', 1935, 1498, STEEL);
})();
</script>
</body>
</html>
